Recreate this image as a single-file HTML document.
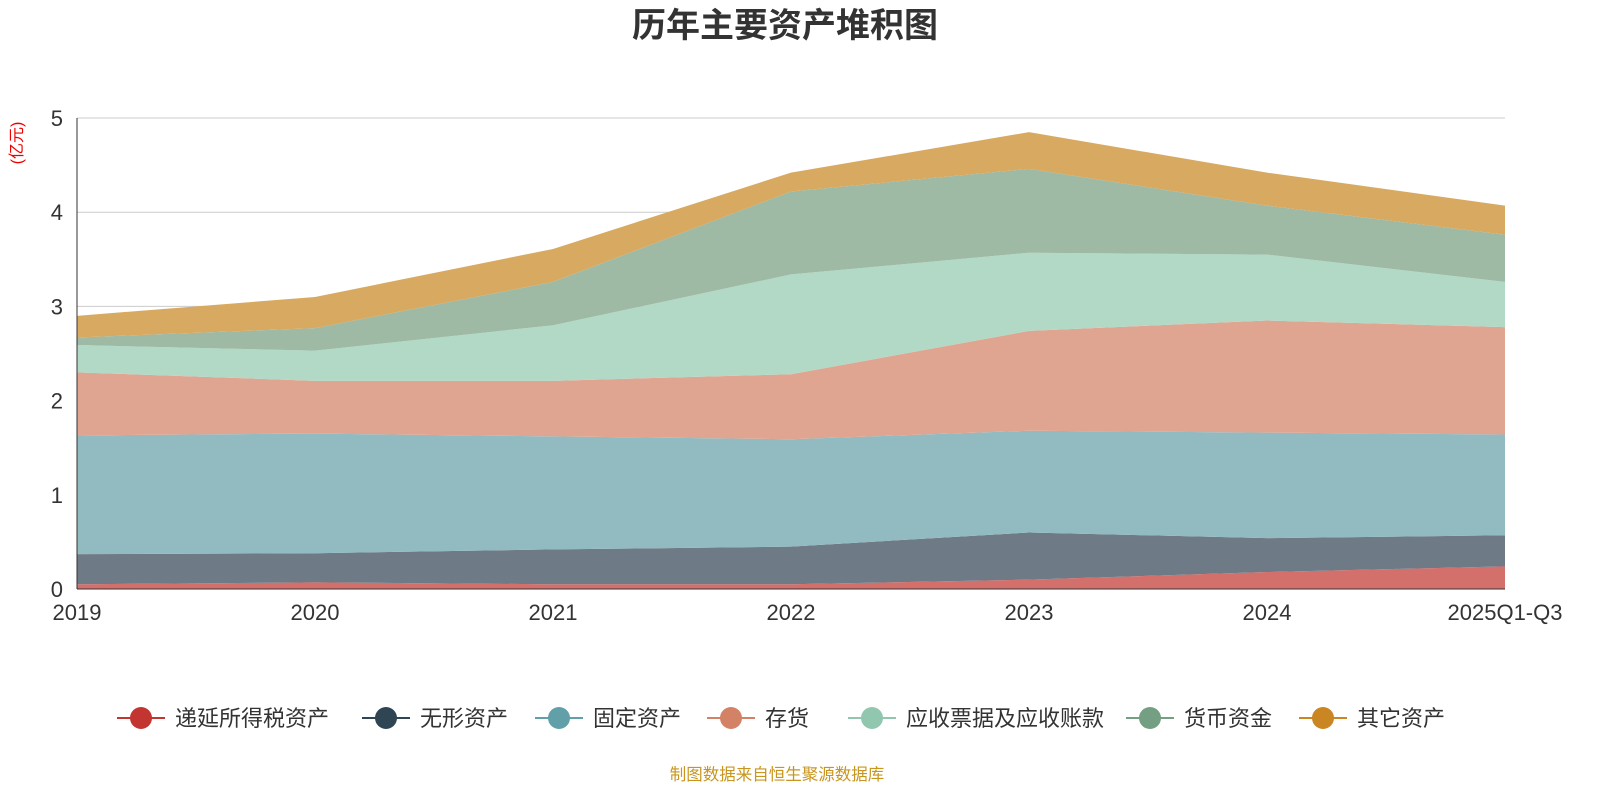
<!DOCTYPE html>
<html><head><meta charset="utf-8"><style>
body{margin:0;background:#fff;font-family:"Liberation Sans","Noto Sans CJK SC",sans-serif;}
svg text{font-family:"Liberation Sans","Noto Sans CJK SC",sans-serif;}
</style></head><body>
<svg id="chart" width="1600" height="800">
<text x="785" y="37" text-anchor="middle" font-size="34" font-weight="bold" fill="#333">历年主要资产堆积图</text>
<text transform="translate(22,143) rotate(-90)" text-anchor="middle" font-size="16" fill="#e00">(亿元)</text>
<g id="grid"></g><g id="areas"></g><g id="axes"></g><g id="legend"></g>
<text x="777" y="780" text-anchor="middle" font-size="16.5" fill="#c8961e">制图数据来自恒生聚源数据库</text>
</svg>
<script>
const categories=["2019","2020","2021","2022","2023","2024","2025Q1-Q3"];
const yTicks=[0,1,2,3,4,5];
const seriesNames=["递延所得税资产","无形资产","固定资产","存货","应收票据及应收账款","货币资金","其它资产"];
const s0=[0.05,0.07,0.05,0.05,0.10,0.18,0.24];
const s1=[0.32,0.31,0.37,0.40,0.50,0.36,0.33];
const s2=[1.26,1.27,1.20,1.14,1.08,1.12,1.07];
const s3=[0.67,0.56,0.59,0.69,1.06,1.19,1.14];
const s4=[0.29,0.32,0.59,1.06,0.83,0.70,0.48];
const s5=[0.08,0.24,0.46,0.88,0.89,0.52,0.50];
const s6=[0.23,0.33,0.35,0.20,0.39,0.35,0.31];
const series=[s0,s1,s2,s3,s4,s5,s6];
const fills=["#d4706c","#6e7a85","#91bac1","#e0a591","#b2d8c6","#9eb9a4","#d8a960"];
const icons=["#c23531","#2f4554","#61a0a8","#d48265","#91c7ae","#749f83","#ca8622"];
const NS="http://www.w3.org/2000/svg";
const X0=77,X1=1505,Y0=589,Y5=118;
const x=i=>X0+i*(X1-X0)/(categories.length-1);
const y=v=>Y0-v*(Y0-Y5)/5;
function mk(t,a,p){const e=document.createElementNS(NS,t);for(const k in a)e.setAttribute(k,a[k]);p.appendChild(e);return e;}
const grid=document.getElementById('grid'),axes=document.getElementById('axes'),areas=document.getElementById('areas'),leg=document.getElementById('legend');
yTicks.forEach(t=>{
 if(t>0){const l=mk('line',{x1:X0,x2:X1,y1:y(t),y2:y(t),stroke:'#ccc'},grid);
 
 }
 const tx=mk('text',{x:X0-14,y:y(t)+8,'text-anchor':'end','font-size':22,fill:'#333'},axes);tx.textContent=t;
 
 
});
let base=categories.map(()=>0);
series.forEach((s,k)=>{
 const top=base.map((b,i)=>b+s[i]);
 let d='M'+top.map((v,i)=>x(i)+','+y(v)).join(' L');
 for(let i=base.length-1;i>=0;i--)d+=' L'+x(i)+','+y(base[i]);
 const p=mk('path',{d:d+'Z',fill:fills[k]},areas);
 
 
 base=top;
});
const ax=mk('line',{x1:X0,x2:X1,y1:Y0,y2:Y0,stroke:'#333'},axes);


const ay=mk('line',{x1:X0,x2:X0,y1:Y0,y2:Y5,stroke:'#333'},axes);


categories.forEach((c,i)=>{
 const t=mk('text',{x:x(i),y:Y0+31,'text-anchor':'middle','font-size':22,fill:'#333'},axes);t.textContent=c;
 
 
});
const lx=[117,362,535,707,848,1126,1299];
seriesNames.forEach((n,k)=>{
 const g=mk('g',{},leg);
 
 
 mk('line',{x1:lx[k],x2:lx[k]+48,y1:718,y2:718,stroke:icons[k],'stroke-width':2},g);
 mk('circle',{cx:lx[k]+24,cy:718,r:11,fill:icons[k]},g);
 const t=mk('text',{x:lx[k]+58,y:726,'font-size':22,fill:'#333'},g);t.textContent=n;
});
</script>
</body></html>
